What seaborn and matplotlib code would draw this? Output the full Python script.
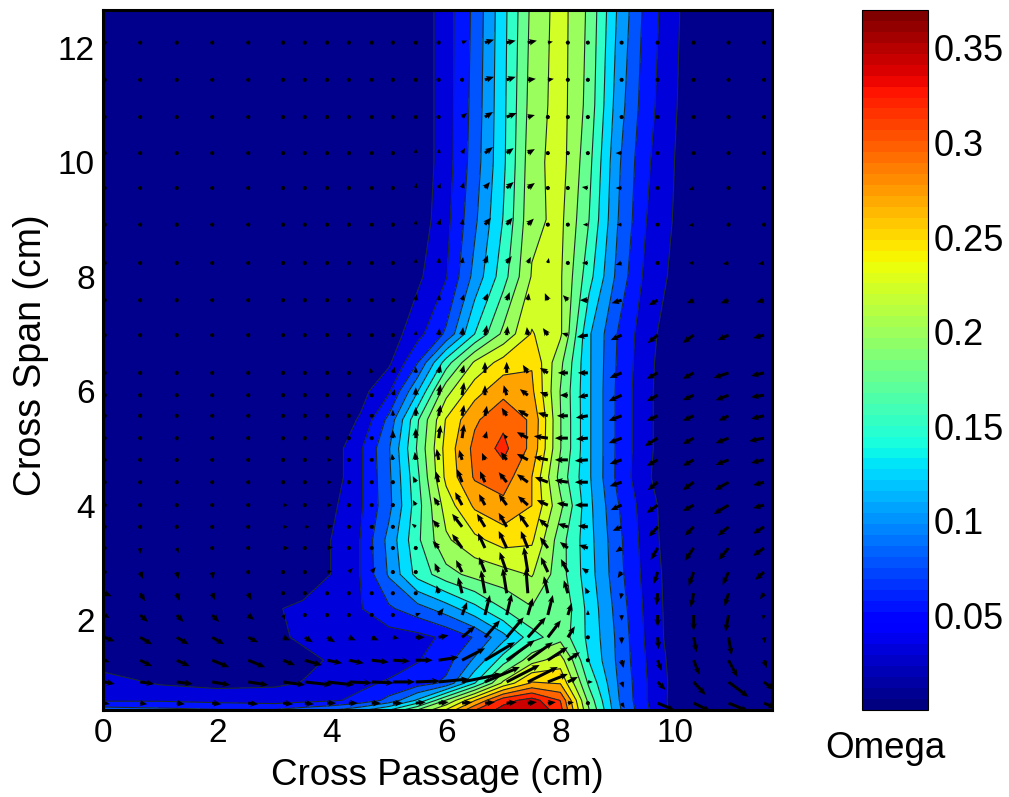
import numpy as np
import seaborn as sns
import matplotlib
matplotlib.use("Agg")
import matplotlib.pyplot as plt
from matplotlib.cm import ScalarMappable
from matplotlib.colors import Normalize

# omega field
x_omega = [0, 1, 2, 3, 3.5, 4, 4.5, 5, 5.5, 6, 6.5, 7, 7.5, 8, 8.5, 9, 9.5, 10, 10.5, 11.7]
y_omega = [0.43, 0.6, 0.9, 1.3, 1.7, 2.2, 2.8, 3.4, 4, 4.5, 5, 5.5, 6, 6.5, 7, 8, 9, 10, 11, 12.66]
omega = [
    [.09, .085, .08, .08, .09, .10, .12, .15, .20, .25, .32, .355, .37, .33, .20, .108, .058, .02, .008, .004],
    [.05, .05, .045, .04, .045, .05, .06, .085, .13, .20, .27, .335, .355, .32, .19, .105, .055, .02, .007, .004],
    [.04, .027, .022, .026, .03, .036, .048, .057, .066, .083, .15, .23, .275, .27, .17, .102, .055, .021, .007, .004],
    [.018, .012, .012, .018, .025, .031, .034, .04, .052, .068, .106, .163, .215, .235, .15, .098, .053, .019, .007, .004],
    [.008, .008, .008, .026, .032, .036, .038, .042, .046, .058, .08, .118, .165, .19, .145, .097, .05, .016, .006, .004],
    [.006, .006, .01, .027, .035, .042, .052, .074, .092, .114, .143, .175, .197, .196, .143, .093, .048, .016, .006, .004],
    [.005, .005, .006, .008, .012, .03, .054, .105, .16, .19, .207, .215, .226, .185, .137, .087, .045, .016, .006, .004],
    [.004, .004, .005, .006, .012, .03, .054, .11, .17, .22, .242, .258, .252, .185, .135, .085, .042, .014, .006, .004],
    [.004, .004, .004, .005, .008, .024, .05, .095, .165, .235, .276, .29, .272, .205, .133, .08, .04, .013, .005, .004],
    [.004, .004, .004, .005, .007, .015, .05, .097, .17, .254, .30, .31, .272, .19, .13, .072, .033, .012, .005, .004],
    [.004, .004, .004, .005, .007, .015, .05, .10, .178, .257, .304, .328, .29, .20, .13, .073, .035, .012, .005, .004],
    [.004, .004, .004, .004, .006, .012, .032, .085, .172, .25, .293, .315, .293, .20, .13, .073, .035, .012, .005, .004],
    [.004, .004, .004, .004, .005, .008, .02, .05, .125, .215, .262, .29, .277, .198, .13, .073, .035, .012, .005, .004],
    [.004, .004, .004, .004, .005, .006, .01, .025, .077, .163, .228, .258, .27, .205, .13, .075, .036, .013, .005, .004],
    [.004, .004, .004, .004, .004, .005, .006, .015, .045, .082, .151, .205, .25, .228, .13, .077, .038, .015, .006, .004],
    [.004, .004, .004, .004, .004, .004, .005, .01, .024, .052, .11, .165, .226, .227, .16, .095, .047, .023, .009, .004],
    [.004, .004, .004, .004, .004, .004, .005, .007, .014, .046, .097, .152, .218, .23, .175, .103, .054, .027, .01, .004],
    [.004, .004, .004, .004, .004, .004, .005, .006, .012, .042, .09, .146, .215, .235, .182, .107, .058, .029, .01, .004],
    [.004, .004, .004, .004, .004, .004, .005, .006, .012, .042, .087, .145, .21, .235, .19, .115, .064, .031, .011, .004],
    [.004, .004, .004, .004, .004, .004, .005, .006, .012, .042, .084, .143, .205, .235, .194, .124, .07, .033, .012, .004],
]

# velocity vectors, arrow length in image pixels
x_arrow = [.03, .65, 1.29, 1.91, 2.54, 3.15, 3.53, 3.92, 4.3, 4.7, 5.07, 5.47, 5.87, 6.28, 6.68, 7.06, 7.43, 7.78, 8.13, 8.48, 9.07, 9.7, 10.33, 10.94, 11.56]
y_arrow = [.55, .92, 1.3, 1.7, 2.09, 2.47, 2.84, 3.26, 3.63, 4.01, 4.41, 4.8, 5.18, 5.57, 5.93, 6.32, 6.98, 7.59, 8.24, 8.91, 9.55, 10.16, 10.79, 11.44, 12.09]
u_arrow = [
    [5, 7, 8, 9, 10, 10, 9, 9, 9, 9, 10, 10, 10, 10, 10, 10, 9, 8, 6, 3, 3, 17, 17, 20, 12],
    [10, 14, 16, 18, 20, 22, 27, 27, 23, 22, 22, 24, 30, 40, 35, 33, 30, 20, 10, 5, 2, 8, 12, 20, 10],
    [5, 12, 13, 17, 17, 12, 17, 15, 15, 17, 17, 17, 20, 23, 30, 28, 25, 20, 12, 3, 2, 4, 6, 9, 3],
    [10, 12, 12, 12, 10, 7, 8, 8, 7, 7, 6, 9, 10, 13, 15, 17, 18, 13, 7, 1, 0, 1, 3, 3, 1],
    [5, 8, 7, 7, 6, 2, 1, 1, 1, 2, 3, 5, 5, 5, 5, 5, 5, 5, 4, 0, 0, 0, 0, -3, -1],
    [7, 5, 3, 3, 3, 1, 2, 2, 1, 1, 1, 0, -2, -4, -4, -4, -2, -4, -4, -3, -1, -1, -3, -4, -4],
    [2, 3, 2, 1, 0, 3, 4, 5, 4, 4, 1, 1, -4, -6, -6, -7, -4, -7, -7, -6, -4, -4, -5, -6, -9],
    [1, 0, 2, 1, 0, 6, 4, 6, 3, 4, -2, -3, -6, -10, -7, -8, -7, -8, -8, -9, -6, -7, -9, -10, -11],
    [1, 0, 1, 1, 0, 5, 5, 6, 1, 2, -2, -4, -6, -10, -8, -8, -9, -9, -10, -10, -9, -9, -9, -11, -11],
    [1, 0, 3, 2, 2, 5, 4, 5, -3, 0, -3, -3, -5, -7, -6, -8, -10, -11, -11, -13, -11, -11, -11, -15, -11],
    [0, 1, 1, 1, 1, 4, 4, 5, -3, 0, -2, -3, -3, -5, -5, -8, -11, -13, -13, -13, -12, -10, -11, -14, -11],
    [0, 1, 1, 1, 2, 4, 4, 5, -2, 0, -1, -1, -2, -3, -3, -6, -11, -14, -13, -13, -12, -11, -11, -13, -13],
    [0, 1, 1, 1, 1, 3, 4, 4, -2, 0, 0, 0, 2, 2, 2, -3, -11, -14, -13, -12, -13, -13, -11, -13, -15],
    [0, 0, 1, 0, 1, -2, -2, -3, -3, 0, 0, 0, 2, 2, 2, -5, -10, -10, -11, -12, -13, -11, -11, -10, -13],
    [0, 0, 0, 0, 0, -1, -2, -2, -2, -1, 2, 0, 2, 2, 0, -3, -8, -8, -8, -10, -13, -11, -11, -13, -13],
    [0, 0, 0, 0, 0, -1, -1, -1, -2, -2, 2, 0, 2, 2, 0, 0, -5, -8, -10, -10, -12, -11, -11, -15, -13],
    [0, 0, 0, 0, 0, 0, -1, -1, -1, -1, 0, 0, 1, 1, 2, 1, -1, -5, -6, -11, -11, -10, -11, -11, -11],
    [0, 0, 0, 0, 0, 0, 0, 0, -1, 0, 0, 1, 1, 2, 3, 3, 1, -3, -5, -8, -10, -9, -7, -8, -8],
    [0, 0, 0, 0, 0, 0, 0, 0, 0, 0, 0, 0, 1, 1, 3, 5, 3, 1, -3, -6, -6, -2, -5, -6, -6],
    [0, 0, 0, 0, 0, 0, 0, 0, 0, 0, 0, 0, 2, 1, 6, 6, 6, 1, -3, -5, -5, 0, -5, -4, -4],
    [0, 0, 0, 0, 0, 0, 0, 0, 0, 0, 0, 1, 2, 2, 5, 7, 7, 1, -2, -6, -6, 0, -5, -3, -3],
    [0, 0, 0, 0, 0, 0, 0, 0, 0, 0, 0, 0, 1, 3, 8, 7, 7, 2, -3, -4, -6, 0, 0, -2, -2],
    [0, 0, 0, 0, 0, 0, 0, 0, 0, 0, 0, 0, 2, 5, 8, 10, 7, 4, 2, -4, -4, -4, 0, 0, -2],
    [0, 0, 0, 0, 0, 0, 0, 0, 0, 0, 0, 1, 2, 4, 9, 9, 8, 6, 3, 3, 1, 1, 0, 0, 0],
    [0, 0, 0, 0, 0, 0, 0, 0, 0, 0, 0, 1, 1, 5, 9, 9, 9, 5, 2, 2, -3, 1, 0, 0, 0],
]
v_arrow = [
    [-1, -1, -1, -1, -1, -1, -1, 0, 0, 0, 0, 1, 1, 1, 1, 1, 1, 1, 1, 1, -5, -7, -8, -8, -5],
    [-2, -2, -2, -3, -3, -3, -3, -3, -1, -1, 0, 1, 3, 8, 15, 17, 15, 8, 5, 0, -6, -8, -13, -15, -8],
    [-2, -6, -6, -7, -7, -5, -5, -3, -3, -2, -1, 0, 3, 12, 18, 20, 18, 13, 8, 2, -8, -11, -15, -17, -8],
    [-4, -7, -7, -7, -5, -3, -5, -5, -3, -3, -1, 0, 2, 11, 17, 20, 20, 17, 11, -4, -7, -12, -15, -18, -6],
    [-3, -7, -7, -7, -5, -5, -1, -1, -1, 0, 1, 2, 7, 13, 20, 21, 17, 20, 12, 5, -6, -12, -16, -17, -5],
    [-3, -8, -8, -7, -7, -2, 2, 1, 1, -1, 0, 0, 8, 16, 23, 25, 25, 17, 13, 6, -6, -12, -14, -13, -6],
    [-2, -7, -7, -7, -1, 0, 2, 1, 4, 5, 2, 3, 9, 12, 15, 20, 25, 15, 13, 4, -6, -12, -14, -13, -8],
    [-2, -6, -5, -4, 0, 0, 0, 1, 3, 2, 2, 3, 7, 14, 15, 17, 17, 11, 6, 3, -4, -12, -13, -12, -8],
    [-1, -3, -4, -3, 0, 0, 0, 1, 2, 3, 2, 3, 7, 13, 13, 14, 13, 8, 3, 1, -4, -10, -9, -9, -7],
    [-1, -4, -3, -3, 0, 0, 0, 0, 3, 1, 3, 5, 8, 13, 11, 11, 9, 5, 2, 0, -5, -8, -6, -9, -3],
    [-1, -2, -2, -2, 0, 0, 0, 0, 2, 2, 3, 6, 11, 13, 11, 10, 8, 5, 2, 0, -4, -8, -8, -8, -3],
    [0, -1, -1, 0, 0, 0, 0, 0, 3, 2, 6, 8, 11, 10, 7, 8, 6, 3, 0, -1, -4, -6, -6, -5, -3],
    [0, -1, -1, 0, -1, 1, 1, 1, 3, 3, 8, 10, 13, 14, 7, 4, 6, 2, 0, -1, -5, -8, -6, -5, -3],
    [0, -1, 0, 0, 0, 2, 1, 2, 2, 3, 6, 9, 11, 11, 10, 8, 6, 3, 0, -2, -5, -5, -5, -5, -3],
    [-1, -1, 0, 0, 0, 2, 1, 1, 2, 3, 6, 8, 11, 13, 10, 10, 6, 3, 0, -2, -6, -6, -5, -5, -2],
    [-1, -1, -1, 0, -1, 2, 1, 2, 2, 5, 6, 6, 8, 8, 11, 11, 8, 5, 0, 0, -5, -6, -6, -5, -3],
    [-1, -1, -1, 0, -1, 2, 1, 3, 3, 4, 4, 5, 7, 8, 10, 9, 8, 7, 2, -2, -5, -8, -8, -5, -3],
    [-1, -1, -1, 0, 0, 1, 1, 2, 3, 3, 4, 6, 6, 6, 7, 8, 7, 7, 5, 0, -3, -5, -3, -3, -2],
    [-1, -1, -1, 0, 0, 0, 1, 1, 2, 3, 4, 5, 6, 6, 8, 7, 6, 5, 3, 0, -2, 0, 0, -1, -1],
    [-1, 0, -1, 0, 0, 0, 0, 1, 1, 2, 3, 5, 6, 6, 7, 7, 6, 4, 3, 0, 0, 2, -1, -1, 0],
    [0, 0, 0, 0, 0, 0, 0, 1, 1, 2, 3, 5, 5, 6, 6, 6, 5, 3, 3, 1, 0, 2, -2, -1, 0],
    [0, 0, 0, 0, 0, 0, 0, 1, 1, 2, 2, 5, 5, 5, 6, 5, 4, 3, 1, 1, 0, 3, 3, 0, 0],
    [0, 0, 0, 0, 0, 0, 0, 0, 1, 1, 2, 4, 3, 4, 5, 4, 2, 1, -1, 1, 1, -1, 3, 1, 0],
    [0, 0, 0, 0, 0, 0, 0, 0, 0, 1, 1, 2, 2, 2, 3, 3, 1, 1, 0, -1, -3, 0, 0, 0, 0],
    [0, 0, 0, 0, 0, 0, 0, 0, 0, 0, 0, 1, 1, 2, 3, 2, 2, 1, 0, -2, 1, 0, 0, 0, 0],
]

levels = [0, .0293, .0536, .0779, .102, .1265, .151, .175, .199, .224, .248, .272, .297, .321, .345, .38]
x_ticks = [0, 2, 4, 6, 8, 10]
y_ticks = [2, 4, 6, 8, 10, 12]
cbar_ticks = [.05, .1, .15, .2, .25, .3, .35]
cbar_labels = ["0.05", "0.1", "0.15", "0.2", "0.25", "0.3", "0.35"]

sns.set_style("white")
plt.rcParams['font.family'] = ['Liberation Sans', 'DejaVu Sans']
plt.rcParams['axes.linewidth'] = 2.2
plt.rcParams['axes.edgecolor'] = 'black'
plt.rcParams['text.color'] = 'black'
plt.rcParams['axes.labelcolor'] = 'black'
plt.rcParams['xtick.color'] = 'black'
plt.rcParams['ytick.color'] = 'black'

W, H = 1009, 797
fig = plt.figure(figsize=(W / 100, H / 100), dpi=100)
ax = fig.add_axes([103 / W, 1 - 710 / H, (772 - 103) / W, 700 / H])
cax = fig.add_axes([862 / W, 1 - 710 / H, 66 / W, 700 / H])

# seaborn refuses to hand out jet, so it comes from matplotlib
jet = plt.get_cmap("jet", 64)
norm = Normalize(vmin=0, vmax=0.37)
band_colors = [plt.get_cmap("jet")(norm(max(lv, .005))) for lv in levels[:-1]]

ax.contourf(x_omega, y_omega, omega, levels=levels, colors=band_colors)
ax.contour(x_omega, y_omega, omega, levels=levels[1:-1], colors="#1c2a2a", linewidths=0.8)
ax.quiver(x_arrow, y_arrow, u_arrow, v_arrow, angles="uv", units="dots", scale_units="dots", scale=1,
          width=3, headwidth=2.2, headlength=2.6, headaxislength=2.2, minlength=1.5, color="black", pivot="tail", zorder=3)

ax.set_xlim(0, 11.7)
ax.set_ylim(0.43, 12.66)
ax.set_xticks(x_ticks)
ax.set_yticks(y_ticks)
ax.tick_params(direction="in", length=6, width=1, labelsize=24, top=True, right=True, bottom=True, left=True, pad=6)
ax.set_xlabel("Cross Passage (cm)", fontsize=26.5, labelpad=6)
ax.set_ylabel("Cross Span (cm)", fontsize=27, labelpad=6, y=0.507)

fig.colorbar(ScalarMappable(norm=norm, cmap=jet), cax=cax, ticks=cbar_ticks)
cax.set_yticklabels(cbar_labels)
cax.tick_params(direction="in", length=7, width=0.8, labelsize=26, left=True, right=True, pad=4)
cax.minorticks_off()
for spine in cax.spines.values():
    spine.set_linewidth(0.8)
fig.text(885 / W, 1 - 748 / H, "Omega", fontsize=26.5, ha="center", va="center")

fig.savefig("out.png", dpi=100)
